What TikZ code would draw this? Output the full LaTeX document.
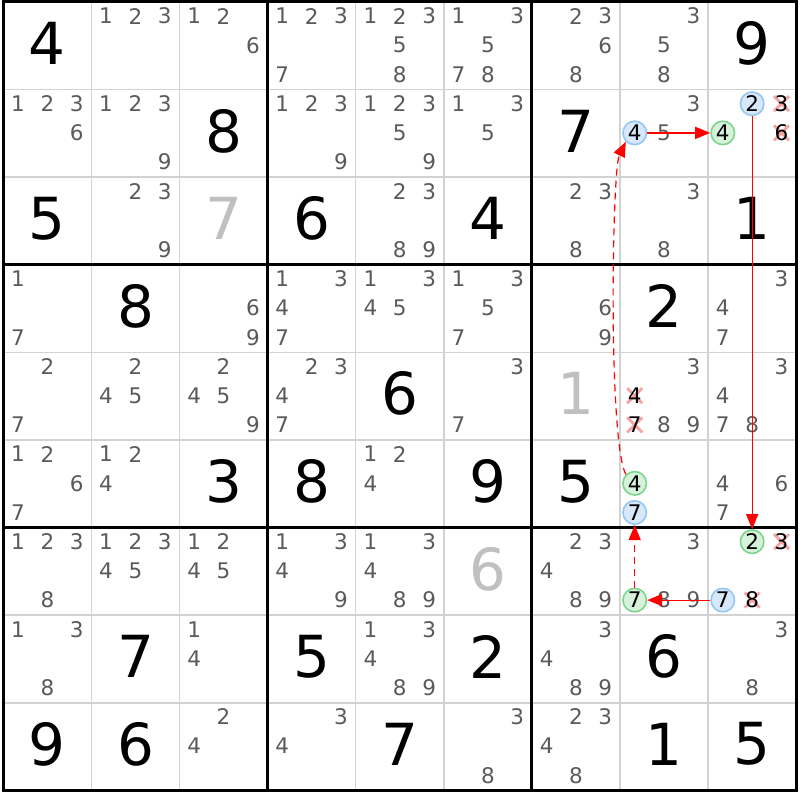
\documentclass[tikz,border=0pt]{standalone}
\usepackage{fontspec}
\setmainfont{DejaVu Sans}
\usetikzlibrary{arrows.meta}
\definecolor{pencil}{HTML}{5A5A5A}
\definecolor{solvedgrey}{HTML}{C0C0C0}
\definecolor{gridthin}{HTML}{D2D2D2}
\definecolor{bluefill}{HTML}{D6E8FA}
\definecolor{bluedraw}{HTML}{96C6F2}
\definecolor{greenfill}{HTML}{D6F2DA}
\definecolor{greendraw}{HTML}{7ED48E}
\definecolor{crossred}{HTML}{F49A9A}
\definecolor{linkred}{HTML}{FF0000}
\tikzset{
  pm/.style={inner sep=0pt, text=pencil, font=\fontsize{21.5}{21.5}\selectfont},
  pmk/.style={inner sep=0pt, text=black, font=\fontsize{21.5}{21.5}\selectfont},
  given/.style={inner sep=0pt, text=black, font=\fontsize{58}{58}\selectfont},
  solved/.style={inner sep=0pt, text=solvedgrey, font=\fontsize{58}{58}\selectfont},
  bcirc/.style={circle, minimum size=23.5pt, inner sep=0pt, draw=bluedraw, fill=bluefill, line width=1.6pt, text=black, font=\fontsize{21.5}{21.5}\selectfont},
  gcirc/.style={circle, minimum size=23.5pt, inner sep=0pt, draw=greendraw, fill=greenfill, line width=1.6pt, text=black, font=\fontsize{21.5}{21.5}\selectfont},
  crossline/.style={draw=crossred, line width=2.8pt, opacity=0.9},
  link/.style={draw=linkred, line width=1.2pt, -{Triangle[length=15pt,width=12pt]}},
  weaklink/.style={link, dash pattern=on 7pt off 5pt},
  thin grid/.style={draw=gridthin, line width=1.5pt},
  thick grid/.style={draw=black, line width=3pt},
}
% position of candidate d in cell (r,c)
\newcommand\candxy[3]{%
  \pgfmathsetmacro\px{3.3+(#2-1)*88.1+(mod(#3-1,3)+0.5)*29.367}%
  \pgfmathsetmacro\py{2+(#1-1)*87.6+(floor((#3-1)/3)+0.5)*29.2-0.5}%
}
\newcommand\cands[3]{%
  \foreach \d in {#3} {%
    \candxy{#1}{#2}{\d}%
    \node[pm] (p#1#2\d) at (\px,\py) {\d};
  }%
}
\newcommand\crossed[3]{%
  \candxy{#1}{#2}{#3}%
  \draw[crossline] (\px-7.5,\py-7.5) -- (\px+7.5,\py+7.5) (\px-7.5,\py+7.5) -- (\px+7.5,\py-7.5);
  \node[pmk] (x#1#2#3) at (\px,\py) {#3};
}
\newcommand\bigdigit[4]{%
  \node[#4] (g#1#2) at ({3.3+(#2-0.5)*88.1},{2+(#1-0.5)*87.6-2.5}) {#3};
}
\begin{document}
\begin{tikzpicture}[x=1pt,y=-1pt]
\useasboundingbox (0,0) rectangle (800,800);
\fill[white] (0,0) rectangle (800,800);
% grid
\foreach \i in {1,2,4,5,7,8} {
  \draw[thin grid] ({3.3+\i*88.1},2) -- ({3.3+\i*88.1},790.4);
  \draw[thin grid] (3.3,{2+\i*87.6}) -- (796.2,{2+\i*87.6});
}
\foreach \i in {0,3,6,9} {
  \draw[thick grid] ({3.3+\i*88.1},0.5) -- ({3.3+\i*88.1},791.9);
  \draw[thick grid] (1.8,{2+\i*87.6}) -- (797.7,{2+\i*87.6});
}
% givens
\bigdigit{1}{1}{4}{given}
\bigdigit{1}{9}{9}{given}
\bigdigit{2}{3}{8}{given}
\bigdigit{2}{7}{7}{given}
\bigdigit{3}{1}{5}{given}
\bigdigit{3}{3}{7}{solved}
\bigdigit{3}{4}{6}{given}
\bigdigit{3}{6}{4}{given}
\bigdigit{3}{9}{1}{given}
\bigdigit{4}{2}{8}{given}
\bigdigit{4}{8}{2}{given}
\bigdigit{5}{5}{6}{given}
\bigdigit{5}{7}{1}{solved}
\bigdigit{6}{3}{3}{given}
\bigdigit{6}{4}{8}{given}
\bigdigit{6}{6}{9}{given}
\bigdigit{6}{7}{5}{given}
\bigdigit{7}{6}{6}{solved}
\bigdigit{8}{2}{7}{given}
\bigdigit{8}{4}{5}{given}
\bigdigit{8}{6}{2}{given}
\bigdigit{8}{8}{6}{given}
\bigdigit{9}{1}{9}{given}
\bigdigit{9}{2}{6}{given}
\bigdigit{9}{5}{7}{given}
\bigdigit{9}{8}{1}{given}
\bigdigit{9}{9}{5}{given}
% candidates
\cands{1}{2}{1,2,3}
\cands{1}{3}{1,2,6}
\cands{1}{4}{1,2,3,7}
\cands{1}{5}{1,2,3,5,8}
\cands{1}{6}{1,3,5,7,8}
\cands{1}{7}{2,3,6,8}
\cands{1}{8}{3,5,8}
\cands{2}{1}{1,2,3,6}
\cands{2}{2}{1,2,3,9}
\cands{2}{4}{1,2,3,9}
\cands{2}{5}{1,2,3,5,9}
\cands{2}{6}{1,3,5}
\cands{2}{8}{3,5}
\cands{3}{2}{2,3,9}
\cands{3}{5}{2,3,8,9}
\cands{3}{7}{2,3,8}
\cands{3}{8}{3,8}
\cands{4}{1}{1,7}
\cands{4}{3}{6,9}
\cands{4}{4}{1,3,4,7}
\cands{4}{5}{1,3,4,5}
\cands{4}{6}{1,3,5,7}
\cands{4}{7}{6,9}
\cands{4}{9}{3,4,7}
\cands{5}{1}{2,7}
\cands{5}{2}{2,4,5}
\cands{5}{3}{2,4,5,9}
\cands{5}{4}{2,3,4,7}
\cands{5}{6}{3,7}
\cands{5}{8}{3,8,9}
\cands{5}{9}{3,4,7,8}
\cands{6}{1}{1,2,6,7}
\cands{6}{2}{1,2,4}
\cands{6}{5}{1,2,4}
\cands{6}{9}{4,6,7}
\cands{7}{1}{1,2,3,8}
\cands{7}{2}{1,2,3,4,5}
\cands{7}{3}{1,2,4,5}
\cands{7}{4}{1,3,4,9}
\cands{7}{5}{1,3,4,8,9}
\cands{7}{7}{2,3,4,8,9}
\cands{7}{8}{3,8,9}
\cands{8}{1}{1,3,8}
\cands{8}{3}{1,4}
\cands{8}{5}{1,3,4,8,9}
\cands{8}{7}{3,4,8,9}
\cands{8}{9}{3,8}
\cands{9}{3}{2,4}
\cands{9}{4}{3,4}
\cands{9}{6}{3,8}
\cands{9}{7}{2,3,4,8}
% eliminated candidates
\crossed{2}{9}{3}
\crossed{2}{9}{6}
\crossed{5}{8}{4}
\crossed{5}{8}{7}
\crossed{7}{9}{3}
\crossed{7}{9}{8}
% highlighted candidates
\candxy{2}{8}{4}\node[bcirc] (b284) at (\px,\py) {4};
\candxy{2}{9}{4}\node[gcirc] (c294) at (\px,\py) {4};
\candxy{2}{9}{2}\node[bcirc] (b292) at (\px,\py) {2};
\candxy{7}{9}{2}\node[gcirc] (c792) at (\px,\py) {2};
\candxy{7}{9}{7}\node[bcirc] (b797) at (\px,\py) {7};
\candxy{7}{8}{7}\node[gcirc] (c787) at (\px,\py) {7};
\candxy{6}{8}{7}\node[bcirc] (b687) at (\px,\py) {7};
\candxy{6}{8}{4}\node[gcirc] (c684) at (\px,\py) {4};
% links
\draw[link] (b284) -- (c294);
\draw[link] (b292) -- (c792);
\draw[link] (b797) -- (c787);
\draw[weaklink] (c787) -- (b687);
\draw[weaklink] (c684.north west) .. controls (608,440) and (612,170) .. (b284.south west);
\end{tikzpicture}
\end{document}
